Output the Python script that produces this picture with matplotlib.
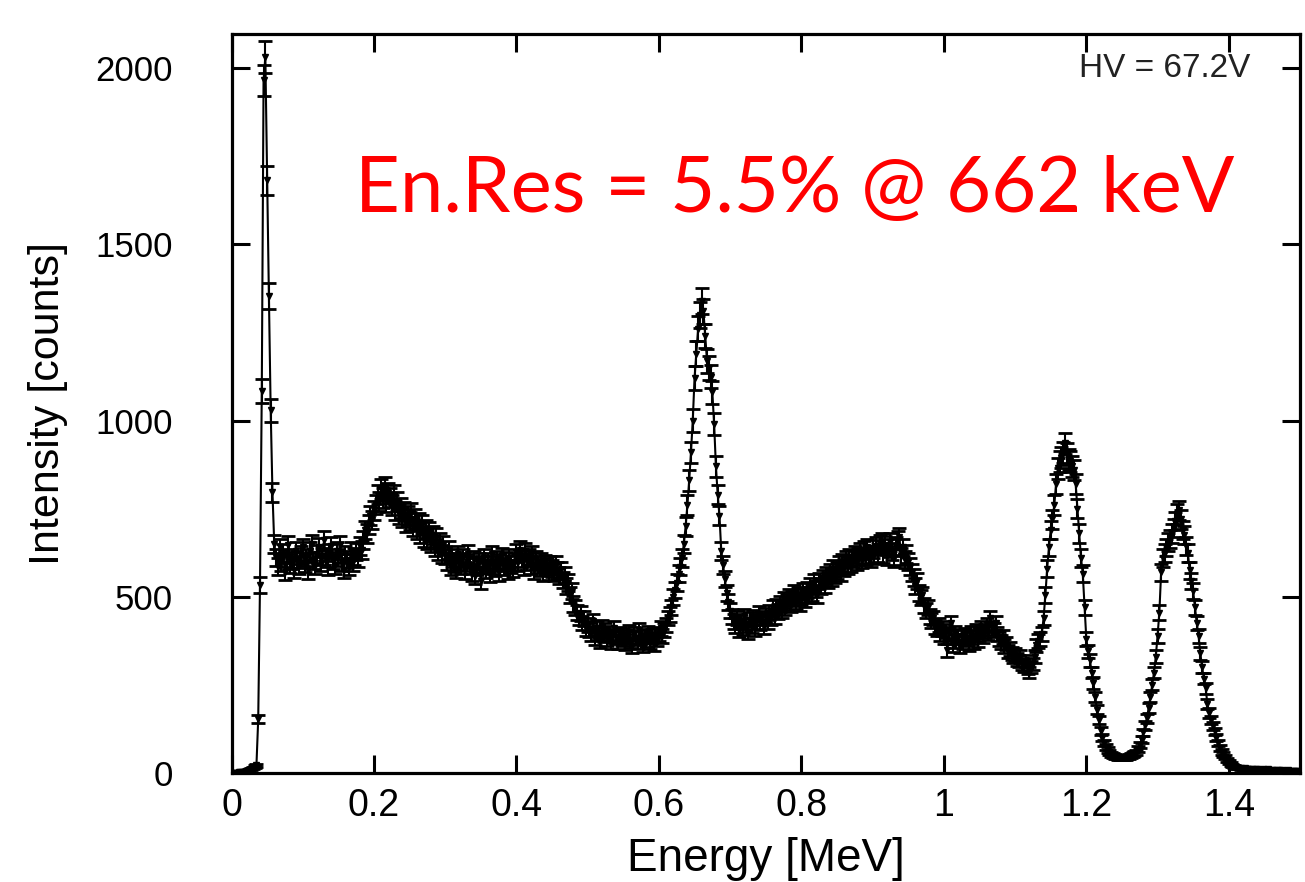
"""
Espectro de energía (Co-60 + Cs-137) con barras de error de Poisson.
"""

import numpy as np
import matplotlib.pyplot as plt

# =============================================================================
# 1. DATOS
# =============================================================================

PASO = 0.0025  # MeV por canal

# cuentas por canal, 20 canales (0.05 MeV) por fila
cuentas = [
    0, 0, 0, 1, 2, 3, 3, 4, 5, 6, 8, 11, 14, 18, 22, 153, 534, 1084, 1965, 2031,
    1682, 1353, 1029, 796, 650, 612, 585, 640, 598, 625, 571, 610, 648, 592, 603, 577, 630, 606, 588, 618,
    640, 596, 612, 575, 629, 650, 603, 588, 622, 641, 597, 615, 660, 608, 585, 626, 645, 602, 590, 631,
    612, 648, 598, 576, 620, 605, 585, 630, 598, 615, 628, 610, 645, 632, 662, 690, 680, 705, 730, 718,
    745, 762, 790, 770, 805, 780, 812, 768, 795, 782, 760, 790, 745, 770, 735, 752, 725, 742, 710, 730,
    715, 740, 698, 722, 690, 712, 680, 705, 668, 692, 660, 685, 652, 675, 640, 668, 630, 655, 622, 648,
    618, 600, 632, 585, 610, 595, 578, 620, 600, 588, 612, 575, 598, 622, 590, 570, 605, 560, 585, 600,
    545, 592, 610, 578, 600, 565, 620, 590, 582, 605, 570, 598, 615, 585, 602, 575, 610, 592, 580, 600,
    625, 598, 632, 610, 585, 628, 600, 612, 590, 620, 575, 605, 592, 582, 600, 570, 595, 585, 572, 590,
    580, 568, 590, 575, 560, 575, 548, 562, 530, 540, 505, 515, 480, 470, 455, 440, 452, 425, 438, 410,
    420, 405, 395, 430, 382, 410, 398, 375, 415, 392, 405, 380, 398, 370, 390, 410, 385, 372, 395, 380,
    392, 368, 385, 400, 375, 360, 395, 382, 370, 405, 385, 362, 390, 378, 398, 372, 388, 365, 392, 380,
    395, 410, 390, 405, 420, 440, 450, 470, 500, 520, 540, 565, 585, 610, 650, 700, 760, 830, 910, 1000,
    1120, 1190, 1260, 1300, 1340, 1310, 1240, 1170, 1150, 1125, 1080, 990, 870, 790, 730, 630, 590, 550, 510, 485,
    460, 445, 430, 418, 440, 405, 428, 412, 445, 420, 400, 435, 418, 442, 410, 430, 452, 425, 440, 415,
    448, 430, 455, 440, 468, 445, 472, 458, 480, 462, 490, 470, 485, 500, 478, 495, 510, 488, 505, 482,
    500, 515, 492, 520, 505, 530, 512, 540, 522, 505, 545, 530, 552, 535, 560, 548, 570, 555, 580, 562,
    575, 590, 568, 598, 582, 605, 590, 612, 595, 608, 620, 600, 615, 628, 605, 632, 615, 640, 620, 610,
    635, 618, 645, 625, 650, 655, 622, 648, 615, 638, 655, 628, 610, 645, 660, 670, 615, 640, 605, 622,
    600, 585, 570, 555, 530, 545, 512, 498, 505, 475, 462, 470, 445, 432, 440, 415, 408, 420, 395, 410,
    385, 402, 348, 395, 425, 362, 398, 375, 390, 358, 385, 370, 392, 380, 365, 398, 385, 372, 402, 378,
    395, 410, 388, 402, 420, 398, 440, 412, 405, 425, 395, 380, 372, 385, 360, 368, 345, 352, 338, 330,
    335, 322, 318, 330, 310, 305, 318, 298, 285, 300, 310, 330, 362, 375, 380, 395, 440, 505, 580, 640,
    690, 720, 760, 820, 865, 885, 895, 910, 935, 905, 890, 885, 870, 860, 820, 750, 680, 610, 565, 470,
    380, 345, 320, 285, 255, 215, 180, 150, 120, 100, 85, 74, 65, 58, 52, 50, 46, 45, 44, 43,
    42, 44, 43, 45, 48, 50, 53, 55, 58, 68, 80, 95, 115, 135, 155, 185, 215, 250, 285, 330,
    390, 455, 570, 610, 625, 640, 655, 665, 680, 695, 715, 735, 745, 720, 690, 675, 645, 625, 575, 545,
    515, 470, 425, 390, 340, 300, 268, 240, 195, 170, 150, 133, 118, 100, 85, 72, 60, 52, 45, 36,
    30, 25, 22, 18, 16, 14, 15, 13, 12, 14, 11, 12, 10, 11, 9, 10, 12, 9, 8, 10,
    9, 8, 10, 7, 9, 8, 7, 9, 8, 6, 8, 7, 6, 8, 7, 6, 7, 5, 6, 5,
]

cuentas = np.array(cuentas, dtype=float)
energia = np.arange(len(cuentas)) * PASO
error = np.sqrt(cuentas)

X_TICKS = [0, 0.2, 0.4, 0.6, 0.8, 1.0, 1.2, 1.4]
X_LBL = ["0", "0.2", "0.4", "0.6", "0.8", "1", "1.2", "1.4"]
Y_TICKS = [0, 500, 1000, 1500, 2000]

HV_TXT = "HV = 67.2V"
RES_TXT = "En.Res = 5.5% @ 662 keV"

# =============================================================================
# 2. FIGURA
# =============================================================================

FNT = ["Liberation Sans", "DejaVu Sans"]

fig = plt.figure(figsize=(13.05, 8.82), dpi=100, facecolor="white")
ax = fig.add_axes([0.1774, 0.1236, 0.8188, 0.8379])

ax.errorbar(energia, cuentas, yerr=error, color="black", lw=1.5,
            marker="v", ms=4, elinewidth=1.5, capsize=5, capthick=2.0)

ax.set_xlim(0, 1.5)
ax.set_ylim(0, 2097)
ax.set_xticks(X_TICKS)
ax.set_xticklabels(X_LBL)
ax.set_yticks(Y_TICKS)

for s in ax.spines.values():
    s.set_linewidth(2.3)
ax.tick_params(direction="in", top=True, right=True, length=13, width=2.2, pad=11)
ax.tick_params(axis="x", labelsize=27)
ax.tick_params(axis="y", labelsize=25, pad=42)
for lbl in ax.get_xticklabels() + ax.get_yticklabels():
    lbl.set_family(FNT)

ax.set_xlabel("Energy [MeV]", fontsize=33, family=FNT, labelpad=9)
ax.set_ylabel("Intensity [counts]", fontsize=31, family=FNT, labelpad=20)

ax.text(1.43, 2000, HV_TXT, fontsize=24, family=FNT,
        ha="right", va="center", color="#222222")
ax.text(0.173, 1591, RES_TXT, fontsize=56, family=["Lato", "DejaVu Sans"],
        color="#ff0000", ha="left", va="baseline")

fig.savefig("out.png", dpi=100, facecolor="white")
